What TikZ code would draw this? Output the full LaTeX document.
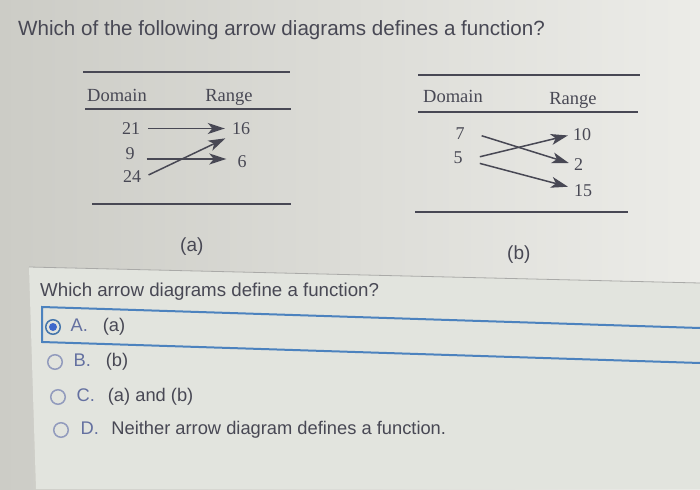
\documentclass[tikz,border=0pt]{standalone}
\usepackage{fontspec}
\setmainfont{Liberation Sans}
\newfontfamily\tabfont{Liberation Serif}
\usetikzlibrary{arrows.meta,positioning}
\definecolor{ink}{RGB}{72,72,84}
\definecolor{slate}{RGB}{100,112,160}
\definecolor{selblue}{RGB}{76,130,190}
\definecolor{screenL}{RGB}{204,204,198}
\definecolor{screenR}{RGB}{236,236,232}
\definecolor{panel}{RGB}{226,228,222}
\definecolor{sepgray}{RGB}{170,170,168}

\begin{document}
\begin{tikzpicture}[x=1pt,y=-1pt]
\tikzset{
  rule/.style  = {draw=ink, line width=1.3pt},
  head/.style  = {font=\tabfont\fontsize{18.5}{20}\selectfont, text=ink, anchor=base, inner sep=0pt},
  val/.style   = {font=\tabfont\fontsize{18}{19}\selectfont, text=ink, inner sep=1pt, minimum width=19pt},
  mapto/.style = {draw=ink, line width=1.5pt, -{Stealth[length=17pt,width=11pt,inset=4.5pt]}},
  quest/.style = {font=\fontsize{#1}{#1}\selectfont, text=ink, anchor=base west, inner sep=0pt},
  radio/.style = {circle, draw=slate!70, line width=1.5pt, minimum size=14.5pt, inner sep=0pt},
  chosen/.style = {radio, draw=selblue!90!black,
                   path picture={\fill[selblue!80!blue] (path picture bounding box.center) circle (4pt);}},
  key/.style   = {font=\fontsize{18.3}{19}\selectfont, text=slate, inner sep=0pt,
                  text height=13.4pt, text depth=3.8pt},
  ans/.style   = {key, text=ink},
}
\useasboundingbox (0,0) rectangle (700,489);
\shade[left color=screenL, right color=screenR] (0,0) rectangle (700,489);
\fill[panel] (29,267) -- (700,283) -- (700,489) -- (36,489) -- cycle;
\draw[sepgray, line width=0.8pt] (29,267) -- (700,283);

\node[quest=20.6] (title) at (18,36) {Which of the following arrow diagrams defines a function?};

% diagram (a)
\begin{scope}
  \tikzset{mapto/.append style = {shorten <=7pt, shorten >=6pt}}
  \draw[rule] (83,72) -- (290,72);
  \draw[rule] (85,109) -- (291,109);
  \draw[rule] (92,204) -- (291,204);
  \node[head] (domA) at (117,102) {Domain};
  \node[head] (ranA) at (229,102) {Range};
  \node[val] (a21) at (131,128.5) {21};
  \node[val] (a9)  at (130,154)   {9};
  \node[val] (a24) at (132,176.5) {24};
  \node[val] (a16) at (241,128.5) {16};
  \node[val] (a6)  at (242,161.5) {6};
  \draw[mapto] (a21) -- (a16);
  \draw[mapto] ([yshift=-5pt]a9.east) -- ([yshift=2.5pt]a6.west);
  \draw[mapto] ([yshift=-1.5pt]a24.east) -- (a16.south west);
\end{scope}

% diagram (b)
\begin{scope}
  \tikzset{mapto/.append style = {shorten <=12.5pt, shorten >=4pt}}
  \draw[rule] (418,75) -- (640,75);
  \draw[rule] (418,112) -- (638,112);
  \draw[rule] (415,212) -- (628,212);
  \node[head] (domB) at (453,103) {Domain};
  \node[head] (ranB) at (573,105) {Range};
  \node[val] (b7)  at (460,134)   {7};
  \node[val] (b5)  at (458,157.5) {5};
  \node[val] (b10) at (582,134.5) {10};
  \node[val] (b2)  at (578.5,164.5) {2};
  \node[val] (b15) at (583,190.5) {15};
  \draw[mapto, shorten >=0pt] ([yshift=2pt]b7.east) -- ([yshift=1.5pt]b2.west);
  \draw[mapto] ([yshift=-2.2pt]b5.east) -- (b10.west);
  \draw[mapto, shorten >=5pt] ([yshift=-2.7pt]b5.east) -- ([yshift=2.5pt]b15.west);
\end{scope}

\node[quest=19] (capA) at (180,251) {(a)};
\node[quest=19] (capB) at (507,259) {(b)};

\node[quest=18.7] (ask) at (40,296) {Which arrow diagrams define a function?};

% choices
\draw[selblue, line width=2pt] (700,328) -- (42,307) -- (42,342) -- (700,363);
\node[chosen] (rA) at (53,327) {};
\node[radio]  (rB) at (55,362) {};
\node[radio]  (rC) at (58,397) {};
\node[radio]  (rD) at (61,430) {};
\node[key, right=9.5pt of rA] (kA) {A.};
\node[key, right=10.5pt of rB] (kB) {B.};
\node[key, right=10.5pt of rC] (kC) {C.};
\node[key, right=11.5pt of rD] (kD) {D.};
\node[ans, right=14.5pt of kA] (tA) {(a)};
\node[ans, right=14.5pt of kB] (tB) {(b)};
\node[ans, right=12.5pt of kC] (tC) {(a) and (b)};
\node[ans, right=12pt of kD]   (tD) {Neither arrow diagram defines a function.};

\end{tikzpicture}
\end{document}
